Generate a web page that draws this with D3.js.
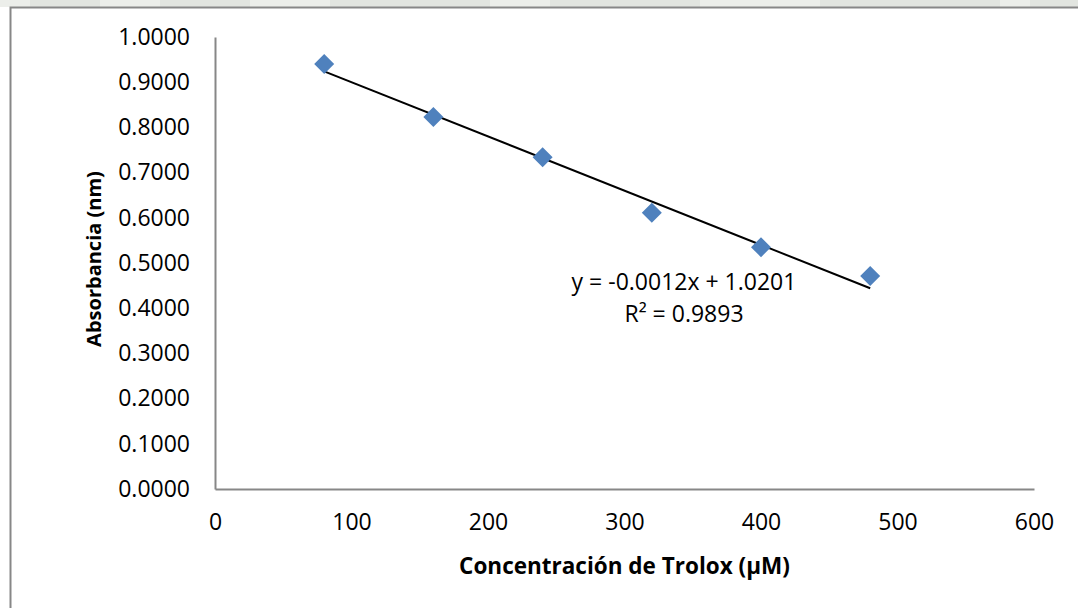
<!DOCTYPE html>
<html>
<head>
<meta charset="utf-8">
<script src="https://cdnjs.cloudflare.com/ajax/libs/d3/7.8.5/d3.min.js"></script>
<style>
  html, body { margin: 0; padding: 0; background: #ffffff; }
  svg { display: block; }
  text { font-family: "Open Sans", "Noto Sans", sans-serif; fill: #000; }
</style>
</head>
<body>
<svg id="chart" width="1078" height="608"></svg>
<script>
// Trolox calibration data
const concentrations = [80, 160, 240, 320, 400, 480];
const absorbance = [0.940, 0.823, 0.734, 0.611, 0.535, 0.471];

// Tick labels
const xTicks = [0, 100, 200, 300, 400, 500, 600];
const yTicks = [0, 0.1, 0.2, 0.3, 0.4, 0.5, 0.6, 0.7, 0.8, 0.9, 1.0];

// Linear trendline as stated in the equation label
const trendSlope = [-0.0012];
const trendIntercept = [1.0201];
const rSquared = [0.9893];

const svg = d3.select("#chart");
const W = 1078, H = 608;
const plot = { left: 215, right: 1034, top: 37, bottom: 489 };

// Faint banner strip along the top edge
const band = svg.append("g");
band.append("rect").attr("x", 0).attr("y", 0).attr("width", W).attr("height", 7).attr("fill", "#e2e5e0");
[[0, 30], [100, 60], [250, 80], [490, 60], [700, 120], [1000, 30]].forEach(([x, w]) => {
  band.append("rect").attr("x", x).attr("y", 0).attr("width", w).attr("height", 7).attr("fill", "#eceeea");
});

// Chart area frame (top and left edges visible)
svg.append("path")
  .attr("d", `M10.5,${H + 2} L10.5,7.5 L${W + 2},7.5`)
  .attr("fill", "none")
  .attr("stroke", "#878787")
  .attr("stroke-width", 2);

const x = d3.scaleLinear().domain([0, 600]).range([plot.left, plot.right]);
const y = d3.scaleLinear().domain([0, 1]).range([plot.bottom, plot.top]);

// Y axis
const yAxis = d3.axisLeft(y).tickValues(yTicks).tickFormat(d3.format(".4f")).tickSize(0).tickPadding(25);
const gy = svg.append("g").attr("transform", `translate(${plot.left},0)`).call(yAxis);
gy.select(".domain").attr("stroke", "#878787").attr("stroke-width", 2);
gy.selectAll("text").attr("font-size", 23).attr("font-family", "Open Sans").attr("fill", "#000");

// X axis
const xAxis = d3.axisBottom(x).tickValues(xTicks).tickFormat(d3.format("d")).tickSize(0).tickPadding(25);
const gx = svg.append("g").attr("transform", `translate(0,${plot.bottom})`).call(xAxis);
gx.select(".domain").attr("stroke", "#878787").attr("stroke-width", 2);
gx.selectAll("text").attr("font-size", 23).attr("font-family", "Open Sans").attr("fill", "#000");

// Trendline over the data range
const xs = d3.extent(concentrations);
svg.append("line")
  .attr("x1", x(xs[0])).attr("y1", y(trendSlope[0] * xs[0] + trendIntercept[0]))
  .attr("x2", x(xs[1])).attr("y2", y(trendSlope[0] * xs[1] + trendIntercept[0]))
  .attr("stroke", "#000").attr("stroke-width", 2);

// Diamond markers
const diamond = "M0,-10 L10,0 L0,10 L-10,0 Z";
svg.append("g").selectAll("path")
  .data(concentrations.map((c, i) => [c, absorbance[i]]))
  .join("path")
  .attr("d", diamond)
  .attr("transform", d => `translate(${x(d[0])},${y(d[1])})`)
  .attr("fill", "#4f81bd");

// Equation label
const eq = svg.append("g").attr("font-size", 23);
const fmt = v => (v < 0 ? "-" : "") + Math.abs(v).toFixed(4);
eq.append("text").attr("x", 684).attr("y", 290).attr("text-anchor", "middle")
  .text(`y = ${fmt(trendSlope[0])}x + ${trendIntercept[0].toFixed(4)}`);
eq.append("text").attr("x", 684).attr("y", 322).attr("text-anchor", "middle")
  .text(`R² = ${rSquared[0].toFixed(4)}`);

// Axis titles
svg.append("text")
  .attr("x", (plot.left + plot.right) / 2).attr("y", 574)
  .attr("text-anchor", "middle").attr("font-weight", "bold").attr("font-size", 22.5)
  .text("Concentración de Trolox (µM)");

svg.append("text")
  .attr("transform", `translate(101,259) rotate(-90)`)
  .attr("text-anchor", "middle").attr("font-weight", "bold").attr("font-size", 20)
  .text("Absorbancia (nm)");
</script>
</body>
</html>
